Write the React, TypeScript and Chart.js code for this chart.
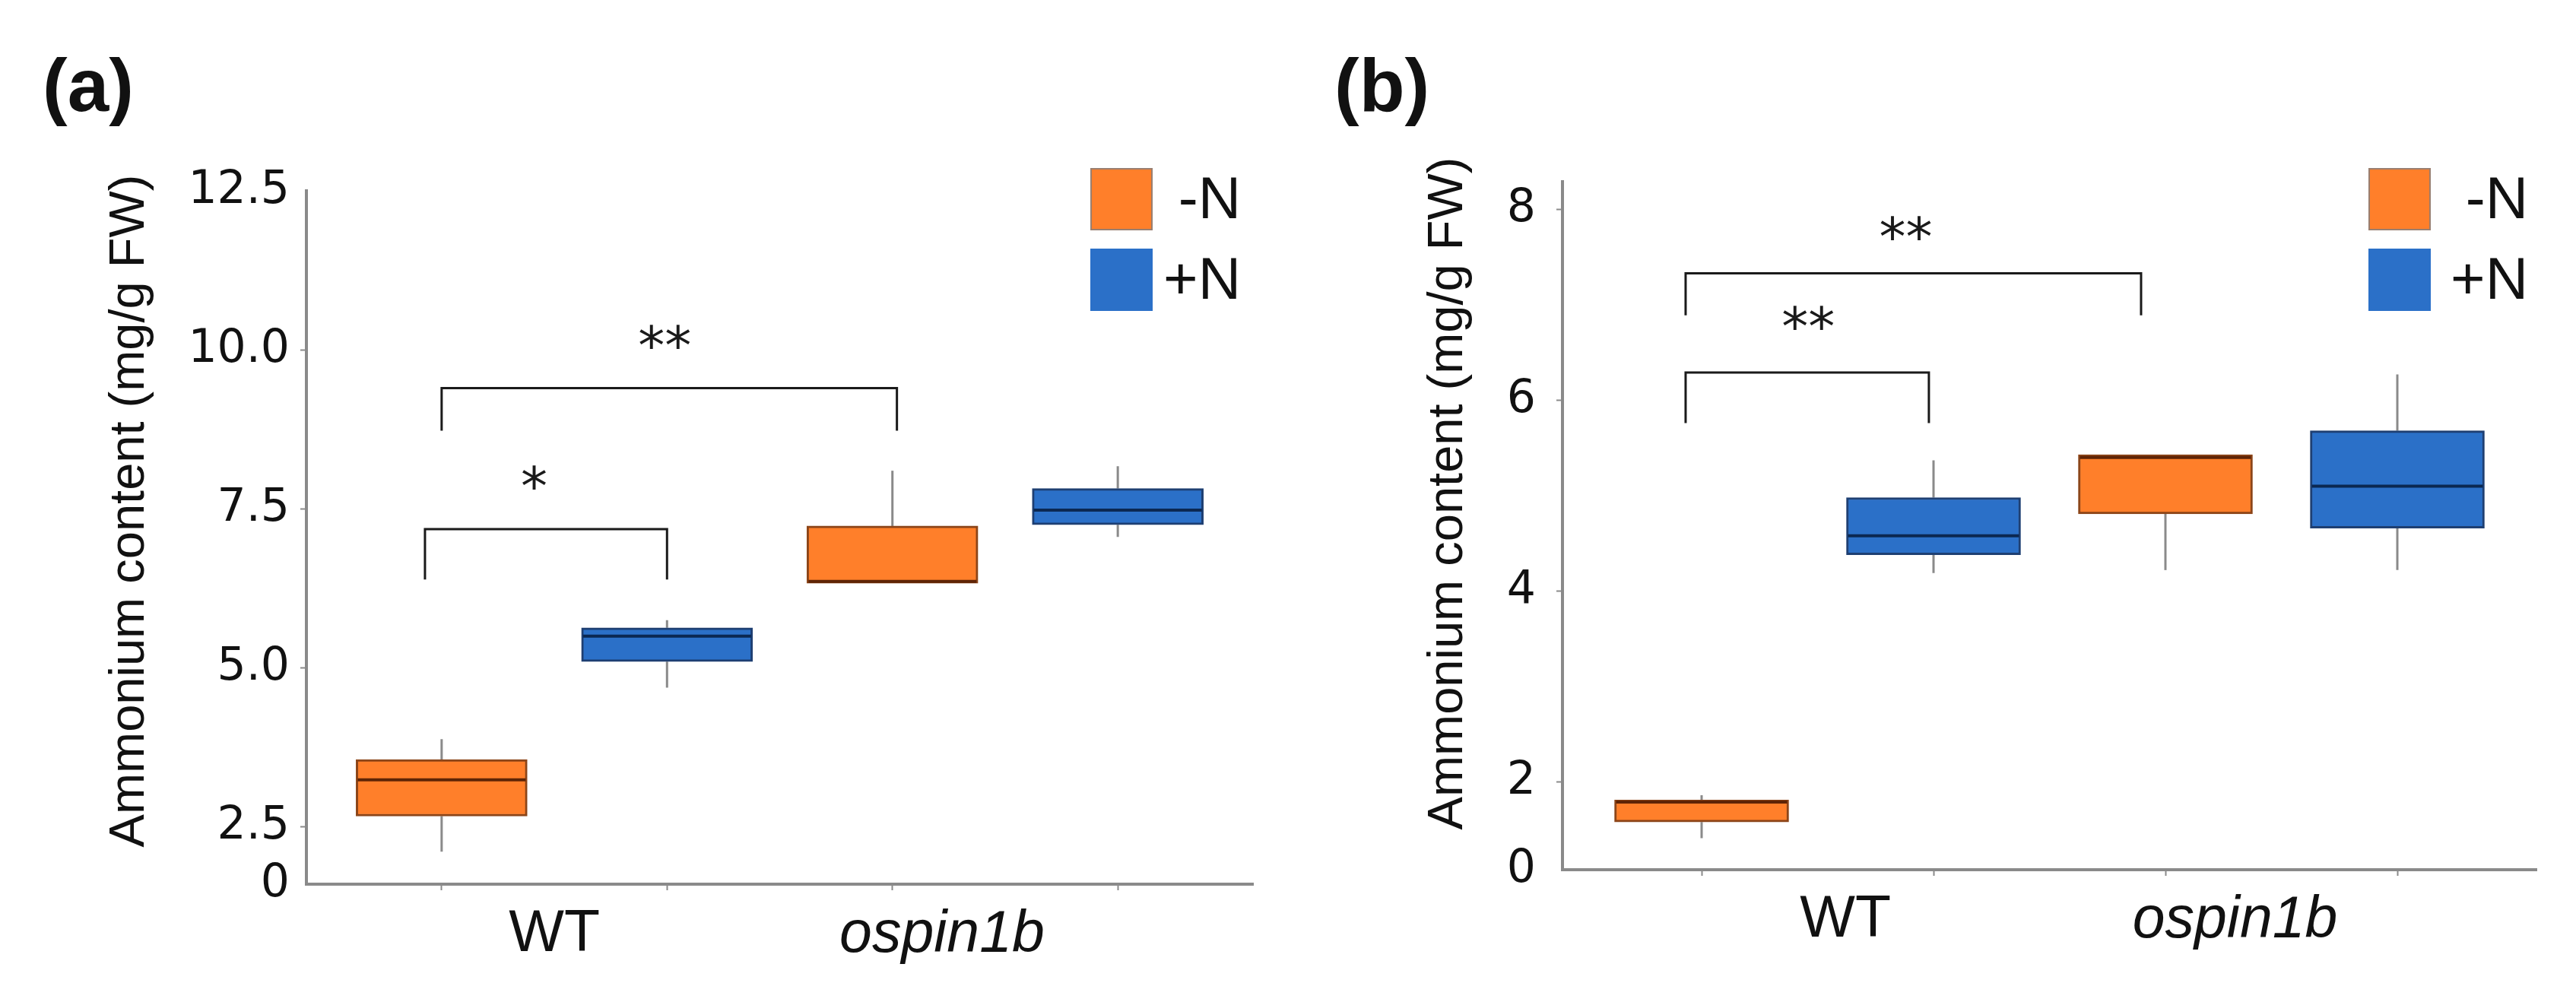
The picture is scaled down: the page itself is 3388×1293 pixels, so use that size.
import React, { useEffect, useRef } from 'react';
import { Chart, registerables } from 'chart.js';

Chart.register(...registerables);

// ---------- data ----------
const groups = ['WT', 'ospin1b'];
const treatments = ['-N', '+N'];
// box order: WT -N, WT +N, ospin1b -N, ospin1b +N
const boxX = [0, 1, 2, 3];
const boxTreatment = [0, 1, 0, 1];

// panel (a)
const aLow = [2.11, 4.69, 6.33, 7.06];
const aQ1 = [2.67, 5.1, 6.33, 7.25];
const aMed = [3.24, 5.5, 6.36, 7.48];
const aQ3 = [3.56, 5.63, 7.23, 7.82];
const aHigh = [3.88, 5.75, 8.1, 8.17];
const aYTicks = [2.5, 5.0, 7.5, 10.0, 12.5];
const aYTickLabels = ['2.5', '5.0', '7.5', '10.0', '12.5'];
const aGroupLabelX = [0.5, 2.22];
const aBrackets = [
  { from: -0.074, to: 1.0, top: 7.18, leg: 6.39, text: '*', textX: 0.41, textY: 7.92 },
  { from: 0.0, to: 2.02, top: 9.4, leg: 8.73, text: '**', textX: 0.99, textY: 10.14 },
];

// panel (b)
const bLow = [1.41, 4.19, 4.22, 4.22];
const bQ1 = [1.58, 4.38, 4.81, 4.66];
const bMed = [1.79, 4.58, 5.4, 5.1];
const bQ3 = [1.81, 4.98, 5.43, 5.68];
const bHigh = [1.86, 5.37, 5.43, 6.27];
const bYTicks = [2, 4, 6, 8];
const bYTickLabels = ['2', '4', '6', '8'];
const bGroupLabelX = [0.62, 2.3];
const bBrackets = [
  { from: -0.069, to: 0.98, top: 6.29, leg: 5.76, text: '**', textX: 0.46, textY: 6.82 },
  { from: -0.069, to: 1.895, top: 7.33, leg: 6.89, text: '**', textX: 0.88, textY: 7.76 },
];

const yTitle = 'Ammonium content (mg/g FW)';

// ---------- styles ----------
const FILL = ['#FF7F2A', '#2B70C8'];
const EDGE = ['#8C4518', '#1E3F72'];
const MEDIAN = ['#5E2406', '#0B2852'];
const AXIS = '#8a8a8a';
const H = 1293;

type Bracket = { from: number; to: number; top: number; leg: number; text: string; textX: number; textY: number };
type Panel = {
  letter: string;
  low: number[]; q1: number[]; med: number[]; q3: number[]; high: number[];
  yMin: number; yMax: number; yTicks: number[]; yTickLabels: string[];
  groupLabelX: number[];
  brackets: Bracket[];
  L: {
    canvasLeft: number; width: number; areaLeft: number; areaRight: number; areaTop: number; areaBottom: number;
    titleX: number; titleY: number; legendX: number; legendTextRight: number; letterX: number; yPad: number; boxW: number;
  };
};

const panels: Panel[] = [
  {
    letter: '(a)', low: aLow, q1: aQ1, med: aMed, q3: aQ3, high: aHigh,
    yMin: 1.6, yMax: 12.5, yTicks: aYTicks, yTickLabels: aYTickLabels,
    groupLabelX: aGroupLabelX, brackets: aBrackets,
    L: { canvasLeft: 0, width: 1694, areaLeft: 403, areaRight: 1648, areaTop: 251, areaBottom: 1163,
      titleX: 171, titleY: 672, legendX: 1434, legendTextRight: 1632, letterX: 56, yPad: 14, boxW: 225 },
  },
  {
    letter: '(b)', low: bLow, q1: bQ1, med: bMed, q3: bQ3, high: bHigh,
    yMin: 1.08, yMax: 8.29, yTicks: bYTicks, yTickLabels: bYTickLabels,
    groupLabelX: bGroupLabelX, brackets: bBrackets,
    L: { canvasLeft: 1694, width: 1694, areaLeft: 361, areaRight: 1642, areaTop: 239, areaBottom: 1144,
      titleX: 211, titleY: 649, legendX: 1421, legendTextRight: 1631, letterX: 61, yPad: 27, boxW: 229 },
  },
];

function makePlugin(p: Panel) {
  return {
    id: 'boxExtras' + p.letter,
    beforeDatasetsDraw(chart: any) {
      const { ctx } = chart;
      const x = chart.scales.x;
      const y = chart.scales.y;
      ctx.save();
      ctx.strokeStyle = AXIS;
      ctx.lineWidth = 3;
      boxX.forEach((bx, i) => {
        const px = x.getPixelForValue(bx);
        ctx.beginPath();
        ctx.moveTo(px, y.getPixelForValue(p.high[i]));
        ctx.lineTo(px, y.getPixelForValue(p.q3[i]));
        ctx.moveTo(px, y.getPixelForValue(p.q1[i]));
        ctx.lineTo(px, y.getPixelForValue(p.low[i]));
        ctx.stroke();
      });
      ctx.restore();
    },
    afterDatasetsDraw(chart: any) {
      const { ctx } = chart;
      const x = chart.scales.x;
      const y = chart.scales.y;
      ctx.save();
      // medians
      [0, 1].forEach((d) => {
        const meta = chart.getDatasetMeta(d);
        const idxs = boxX.filter((_, i) => boxTreatment[i] === d);
        meta.data.forEach((el: any, j: number) => {
          const i = idxs[j];
          const half = el.width / 2;
          const py = y.getPixelForValue(p.med[i]);
          ctx.strokeStyle = MEDIAN[d];
          ctx.lineWidth = 4;
          ctx.beginPath();
          ctx.moveTo(el.x - half + 2, py);
          ctx.lineTo(el.x + half - 2, py);
          ctx.stroke();
        });
      });
      // significance brackets
      ctx.strokeStyle = '#1a1a1a';
      ctx.lineWidth = 3;
      ctx.fillStyle = '#1a1a1a';
      ctx.font = '70px "DejaVu Sans"';
      ctx.textAlign = 'center';
      ctx.textBaseline = 'middle';
      p.brackets.forEach((b) => {
        const x1 = x.getPixelForValue(b.from);
        const x2 = x.getPixelForValue(b.to);
        const yt = y.getPixelForValue(b.top);
        const yl = y.getPixelForValue(b.leg);
        ctx.beginPath();
        ctx.moveTo(x1, yl);
        ctx.lineTo(x1, yt);
        ctx.lineTo(x2, yt);
        ctx.lineTo(x2, yl);
        ctx.stroke();
        ctx.fillText(b.text, x.getPixelForValue(b.textX), y.getPixelForValue(b.textY) + 12);
      });
      // legend
      const sq = 82;
      const tops = [221, 327];
      treatments.forEach((t, k) => {
        ctx.fillStyle = FILL[k];
        ctx.fillRect(p.L.legendX, tops[k], sq, sq);
        if (k === 0) {
          ctx.strokeStyle = '#9a7f70';
          ctx.lineWidth = 2;
          ctx.strokeRect(p.L.legendX + 1, tops[k] + 1, sq - 2, sq - 2);
        }
        ctx.fillStyle = '#111';
        ctx.font = '78px "Liberation Sans"';
        ctx.textAlign = 'right';
        ctx.textBaseline = 'middle';
        ctx.fillText(t, p.L.legendTextRight, tops[k] + sq / 2 + 3);
      });
      // y title
      ctx.save();
      ctx.translate(p.L.titleX, p.L.titleY);
      ctx.rotate(-Math.PI / 2);
      ctx.fillStyle = '#111';
      ctx.font = '65px "Liberation Sans"';
      ctx.textAlign = 'center';
      ctx.textBaseline = 'middle';
      ctx.fillText(yTitle, 0, 0);
      ctx.restore();
      // panel letter
      ctx.fillStyle = '#111';
      ctx.font = 'bold 98px "Liberation Sans"';
      ctx.textAlign = 'left';
      ctx.textBaseline = 'alphabetic';
      ctx.fillText(p.letter, p.L.letterX, 146);
      ctx.restore();
    },
  };
}

function PanelChart({ p }: { p: Panel }) {
  const ref = useRef<HTMLCanvasElement>(null);
  useEffect(() => {
    const L = p.L;
    const xTicks = [...boxX.map((v) => ({ v, label: '' })), ...p.groupLabelX.map((v, k) => ({ v, label: groups[k] }))]
      .sort((m, n) => m.v - n.v);
    const yTickVals = [p.yMin, ...p.yTicks];
    const yLabels = ['0', ...p.yTickLabels];
    const mk = (d: number) => boxX
      .map((bx, i) => ({ bx, i }))
      .filter((o) => boxTreatment[o.i] === d)
      .map((o) => ({ x: o.bx, y: [p.q1[o.i], p.q3[o.i]] }));
    const chart = new Chart(ref.current as HTMLCanvasElement, {
      type: 'bar',
      data: {
        datasets: [0, 1].map((d) => ({
          label: treatments[d],
          data: mk(d) as any,
          backgroundColor: FILL[d],
          borderColor: EDGE[d],
          borderWidth: 3,
          borderSkipped: false,
          grouped: false,
          barThickness: L.boxW,
        })),
      },
      options: {
        responsive: false,
        animation: false,
        devicePixelRatio: 1,
        layout: { padding: { left: 0, top: L.areaTop, right: L.width - L.areaRight, bottom: 0 } },
        plugins: { legend: { display: false }, tooltip: { enabled: false } },
        scales: {
          x: {
            type: 'linear',
            min: -0.6,
            max: 3.6,
            offset: false,
            afterFit: (s: any) => { s.height = H - L.areaBottom; },
            afterBuildTicks: (s: any) => { s.ticks = xTicks.map((t) => ({ value: t.v })); },
            ticks: {
              autoSkip: false,
              maxRotation: 0,
              minRotation: 0,
              padding: 13,
              color: '#111',
              font: (c: any) => ({ family: '"Liberation Sans"', size: 77, style: xTicks[c.index] && xTicks[c.index].label === 'ospin1b' ? 'italic' : 'normal' }),
              callback: (_v: any, i: number) => (xTicks[i] ? xTicks[i].label : ''),
            },
            grid: {
              offset: false,
              drawOnChartArea: false,
              drawTicks: true,
              tickLength: 8,
              tickWidth: 2,
              tickColor: (c: any) => (xTicks[c.index] && xTicks[c.index].label ? 'rgba(0,0,0,0)' : AXIS),
            },
            border: { display: true, color: AXIS, width: 4 },
          },
          y: {
            type: 'linear',
            min: p.yMin,
            max: p.yMax,
            afterFit: (s: any) => { s.width = L.areaLeft; },
            afterBuildTicks: (s: any) => { s.ticks = yTickVals.map((v) => ({ value: v })); },
            ticks: {
              autoSkip: false,
              padding: L.yPad,
              color: '#111',
              font: { family: '"DejaVu Sans"', size: 60 },
              callback: (_v: any, i: number) => yLabels[i],
            },
            grid: {
              drawOnChartArea: false,
              drawTicks: true,
              tickLength: 8,
              tickWidth: 2,
              tickColor: (c: any) => (c.index === 0 || yTickVals[c.index] >= p.yMax ? 'rgba(0,0,0,0)' : AXIS),
            },
            border: { display: true, color: AXIS, width: 4 },
          },
        },
      },
      plugins: [makePlugin(p)],
    });
    return () => chart.destroy();
  }, [p]);
  return (
    <canvas
      ref={ref}
      width={p.L.width}
      height={H}
      style={{ position: 'absolute', left: p.L.canvasLeft, top: 0, width: p.L.width, height: H }}
    />
  );
}

export default function App() {
  return (
    <div style={{ position: 'absolute', left: 0, top: 0, width: 3388, height: H, background: '#fff', overflow: 'hidden' }}>
      {panels.map((p) => (
        <PanelChart key={p.letter} p={p} />
      ))}
    </div>
  );
}
